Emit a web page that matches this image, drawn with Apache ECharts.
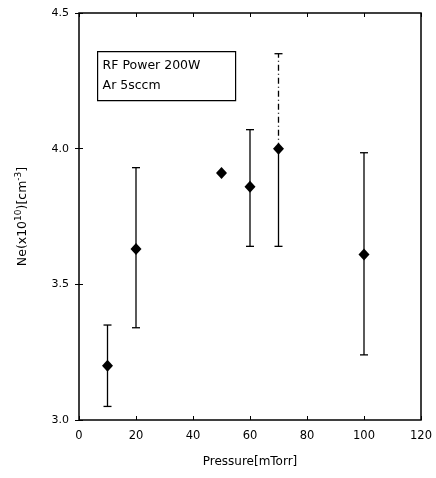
<!DOCTYPE html>
<html><head><meta charset="utf-8">
<script src="https://cdn.jsdelivr.net/npm/echarts@6/dist/echarts.min.js"></script>
<style>html,body{margin:0;padding:0;background:#fff}#c{width:436px;height:478px}</style>
</head><body><div id="c"></div>
<script>
const pressure = [10, 20, 50, 60, 70, 100];
const ne = [3.20, 3.63, 3.91, 3.86, 4.00, 3.61];
const errHigh = [3.35, 3.93, null, 4.07, 4.35, 3.985];
const errLow = [3.05, 3.34, null, 3.64, 3.64, 3.24];
const dashedUpper = [false, false, false, false, true, false];
const xTicks = [0, 20, 40, 60, 80, 100, 120];
const yTicks = [3.0, 3.5, 4.0, 4.5];
const legendLines = ['RF Power 200W', 'Ar 5sccm'];

const chart = echarts.init(document.getElementById('c'));
const font = 'DejaVu Sans';
const errData = pressure.map((p, i) => [p, errLow[i], errHigh[i], ne[i], dashedUpper[i] ? 1 : 0]).filter(d => d[1] != null);

chart.setOption({
  animation: false,
  backgroundColor: '#fff',
  grid: { left: 79, right: 15, top: 13, bottom: 58, show: true, borderColor: '#000', borderWidth: 1.5, backgroundColor: 'transparent' },
  xAxis: [{
    type: 'value', min: 0, max: 120, interval: 20,
    name: 'Pressure[mTorr]', nameLocation: 'middle', nameGap: 36,
    nameTextStyle: { fontFamily: font, fontSize: 12, fontWeight: 500, color: '#000' },
    axisLine: { show: false },
    axisTick: { inside: true, length: 4, lineStyle: { color: '#000' } },
    axisLabel: { fontFamily: font, fontSize: 11.5, color: '#000', margin: 10 },
    splitLine: { show: false }
  }, {
    type: 'value', position: 'top', min: 0, max: 120, interval: 20,
    axisLine: { show: false },
    axisTick: { inside: true, length: 4, lineStyle: { color: '#000' } },
    axisLabel: { show: false }, splitLine: { show: false }
  }],
  yAxis: [{
    type: 'value', min: 3.0, max: 4.5, interval: 0.5,
    name: '{a|Ne(x10}{s|10}{a|)[cm}{s|-3}{a|]}', nameLocation: 'middle', nameGap: 48,
    nameTextStyle: { color: '#000', rich: {
      a: { fontFamily: font, fontSize: 12.5, color: '#000' },
      s: { fontFamily: font, fontSize: 9, color: '#000', verticalAlign: 'top', padding: [0, 0, 8, 0] }
    } },
    axisLine: { show: false },
    axisTick: { inside: true, length: 4, lineStyle: { color: '#000' } },
    axisLabel: { fontFamily: font, fontSize: 11, color: '#000', margin: 10, formatter: v => v.toFixed(1) },
    splitLine: { show: false }
  }, {
    type: 'value', position: 'right', min: 3.0, max: 4.5, interval: 0.5,
    axisLine: { show: false },
    axisTick: { inside: true, length: 4, lineStyle: { color: '#000' } },
    axisLabel: { show: false }, splitLine: { show: false }
  }],
  graphic: [{
    type: 'group', left: 97, top: 51,
    children: [
      { type: 'rect', shape: { x: 0, y: 0, width: 138, height: 49 }, style: { fill: '#fff', stroke: '#000', lineWidth: 1.2 } },
      { type: 'text', left: 5, top: 8, style: { text: legendLines[0], font: '12.5px "DejaVu Sans"', fill: '#000' } },
      { type: 'text', left: 5, top: 28, style: { text: legendLines[1], font: '12.5px "DejaVu Sans"', fill: '#000' } }
    ]
  }],
  series: [{
    type: 'custom',
    data: errData,
    z: 2,
    renderItem: function (params, api) {
      const x = api.value(0);
      const lo = api.coord([x, api.value(1)]);
      const hi = api.coord([x, api.value(2)]);
      const mid = api.coord([x, api.value(3)]);
      const dashed = api.value(4) === 1;
      const cap = 4;
      const st = { stroke: '#000', lineWidth: 1.3 };
      return {
        type: 'group', children: [
          { type: 'line', shape: { x1: lo[0], y1: lo[1], x2: mid[0], y2: mid[1] }, style: st },
          { type: 'line', shape: { x1: mid[0], y1: mid[1], x2: hi[0], y2: hi[1] }, style: Object.assign({}, st, dashed ? { lineDash: [6, 3, 1, 3] } : {}) },
          { type: 'line', shape: { x1: lo[0] - cap, y1: lo[1], x2: lo[0] + cap, y2: lo[1] }, style: st },
          { type: 'line', shape: { x1: hi[0] - cap, y1: hi[1], x2: hi[0] + cap, y2: hi[1] }, style: st }
        ]
      };
    }
  }, {
    type: 'scatter',
    data: pressure.map((p, i) => [p, ne[i]]),
    symbol: 'diamond', symbolSize: [11, 12],
    itemStyle: { color: '#000', opacity: 1 },
    z: 3
  }]
});
</script></body></html>
